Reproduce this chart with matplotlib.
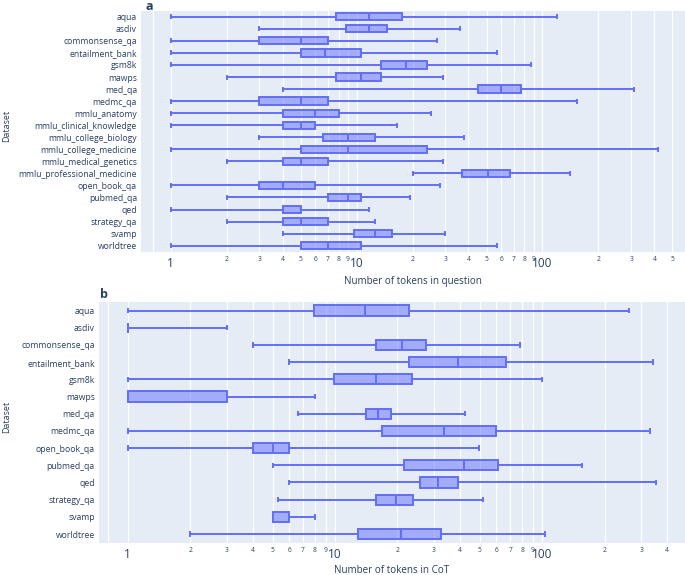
import matplotlib
matplotlib.use("Agg")
import matplotlib.pyplot as plt
from matplotlib.ticker import FixedLocator, FixedFormatter

plt.rcParams["font.family"] = ["Open Sans", "DejaVu Sans"]

# panel a: tokens in question (whisker low, q1, median, q3, whisker high)
q_names = ["aqua", "asdiv", "commonsense_qa", "entailment_bank", "gsm8k", "mawps",
           "med_qa", "medmc_qa", "mmlu_anatomy", "mmlu_clinical_knowledge",
           "mmlu_college_biology", "mmlu_college_medicine", "mmlu_medical_genetics",
           "mmlu_professional_medicine", "open_book_qa", "pubmed_qa", "qed",
           "strategy_qa", "svamp", "worldtree"]
q_low = [1, 3, 1, 1, 1, 2, 4, 1, 1, 1, 3, 1, 2, 20, 1, 2, 1, 2, 4, 1]
q_q1 = [7.8, 8.8, 3, 5, 13.6, 7.8, 45, 3, 4, 4, 6.6, 5, 4, 37, 3, 7, 4, 4, 9.7, 5]
q_med = [11.6, 11.6, 5, 6.8, 18.5, 10.6, 60, 5, 6, 5, 9, 9, 5, 51, 4, 9, 4, 5, 12.6, 7]
q_q3 = [17.5, 14.6, 7, 10.6, 24, 13.6, 77, 7, 8, 6, 12.6, 24, 7, 67, 6, 10.6, 5, 7, 15.5, 10.6]
q_high = [119, 36, 27, 57, 87, 29, 311, 154, 25, 16.6, 38, 420, 29, 141, 28, 19.4, 11.6, 12.6, 30, 57]

# panel b: tokens in CoT
c_names = ["aqua", "asdiv", "commonsense_qa", "entailment_bank", "gsm8k", "mawps",
           "med_qa", "medmc_qa", "open_book_qa", "pubmed_qa", "qed", "strategy_qa",
           "svamp", "worldtree"]
c_low = [1, 1, 4, 6, 1, 1, 6.6, 1, 1, 5, 6, 5.3, 5, 2]
c_q1 = [7.9, 1, 15.8, 22.7, 9.9, 1, 14.1, 16.8, 4, 21.6, 25.8, 15.8, 5, 12.9]
c_med = [13.9, 1, 21, 39.4, 15.8, 1, 16.2, 33.4, 5, 41.8, 31.3, 19.7, 5, 20.7]
c_q3 = [22.7, 1, 27.5, 66.7, 23.6, 3, 18.7, 60, 6, 60.8, 39.2, 23.9, 6, 32.4]
c_high = [261, 3, 78, 343, 100, 8, 42.4, 330, 49.5, 155, 354, 52, 8, 103]

BLUE = "#636efa"
TEXT = "#2a3f5f"


def draw_panel(ax, names, low, q1, med, q3, high, xlim, xlabel, cap, lpad):
    stats = []
    for n, a, b, c, d, e in zip(names, low, q1, med, q3, high):
        stats.append(dict(label=n, whislo=a, q1=b, med=c, q3=d, whishi=e, fliers=[]))
    ax.bxp(stats, positions=range(len(names)), orientation="horizontal",
           widths=0.6, patch_artist=True, showfliers=False, capwidths=cap,
           boxprops=dict(facecolor=(0.388, 0.431, 0.98, 0.5), edgecolor=BLUE, linewidth=1.4),
           medianprops=dict(color=BLUE, linewidth=1.4),
           whiskerprops=dict(color=BLUE, linewidth=1.4),
           capprops=dict(color=BLUE, linewidth=1.4))
    ax.set_xscale("log")
    ax.set_xlim(*xlim)
    ax.set_ylim(len(names) - 0.5, -0.5)
    ax.set_facecolor("#E5ECF6")
    for s in ax.spines.values():
        s.set_visible(False)

    major = [1, 10, 100]
    minor = [m * 10 ** k for k in range(3) for m in range(2, 10)]
    minor = [v for v in minor if v <= xlim[1]]
    ax.xaxis.set_major_locator(FixedLocator(major))
    ax.xaxis.set_major_formatter(FixedFormatter(["1", "10", "100"]))
    ax.xaxis.set_minor_locator(FixedLocator(minor))
    ax.xaxis.set_minor_formatter(FixedFormatter([str(v)[0] for v in minor]))
    ax.tick_params(axis="x", which="major", length=0, labelsize=8.5, colors=TEXT, pad=4)
    ax.tick_params(axis="x", which="minor", length=0, labelsize=4.8, colors=TEXT, pad=3)
    ax.tick_params(axis="y", length=0, labelsize=6.2, colors=TEXT, pad=3)
    for v in [0.8] + major + minor:
        if xlim[0] < v < xlim[1]:
            ax.axvline(v, color="white", linewidth=0.9, zorder=0)
    ax.set_axisbelow(True)
    ax.set_xlabel(xlabel, fontsize=7.1, color=TEXT, labelpad=lpad)


fig = plt.figure(figsize=(6.85, 5.75), dpi=100)
ax1 = fig.add_axes([0.206, 0.5623, 0.794, 0.419])
ax2 = fig.add_axes([0.1445, 0.0563, 0.8555, 0.4185])

draw_panel(ax1, q_names, q_low, q_q1, q_med, q_q3, q_high, (0.694, 584),
           "Number of tokens in question", 0.25, 4)
draw_panel(ax2, c_names, c_low, c_q1, c_med, c_q3, c_high, (0.726, 488),
           "Number of tokens in CoT", 0.2, 2.5)

fig.text(145 / 685, 1 - 6 / 575, "a", fontsize=9, fontweight="bold", color=TEXT,
         ha="left", va="center")
fig.text(100 / 685, 1 - 295 / 575, "b", fontsize=9, fontweight="bold", color=TEXT,
         ha="left", va="center")
fig.text(7 / 685, 1 - 126 / 575, "Dataset", rotation=90, fontsize=6.4, color=TEXT,
         ha="center", va="center")
fig.text(7 / 685, 1 - 417 / 575, "Dataset", rotation=90, fontsize=6.4, color=TEXT,
         ha="center", va="center")

fig.savefig("out.png", dpi=100, facecolor="white")
